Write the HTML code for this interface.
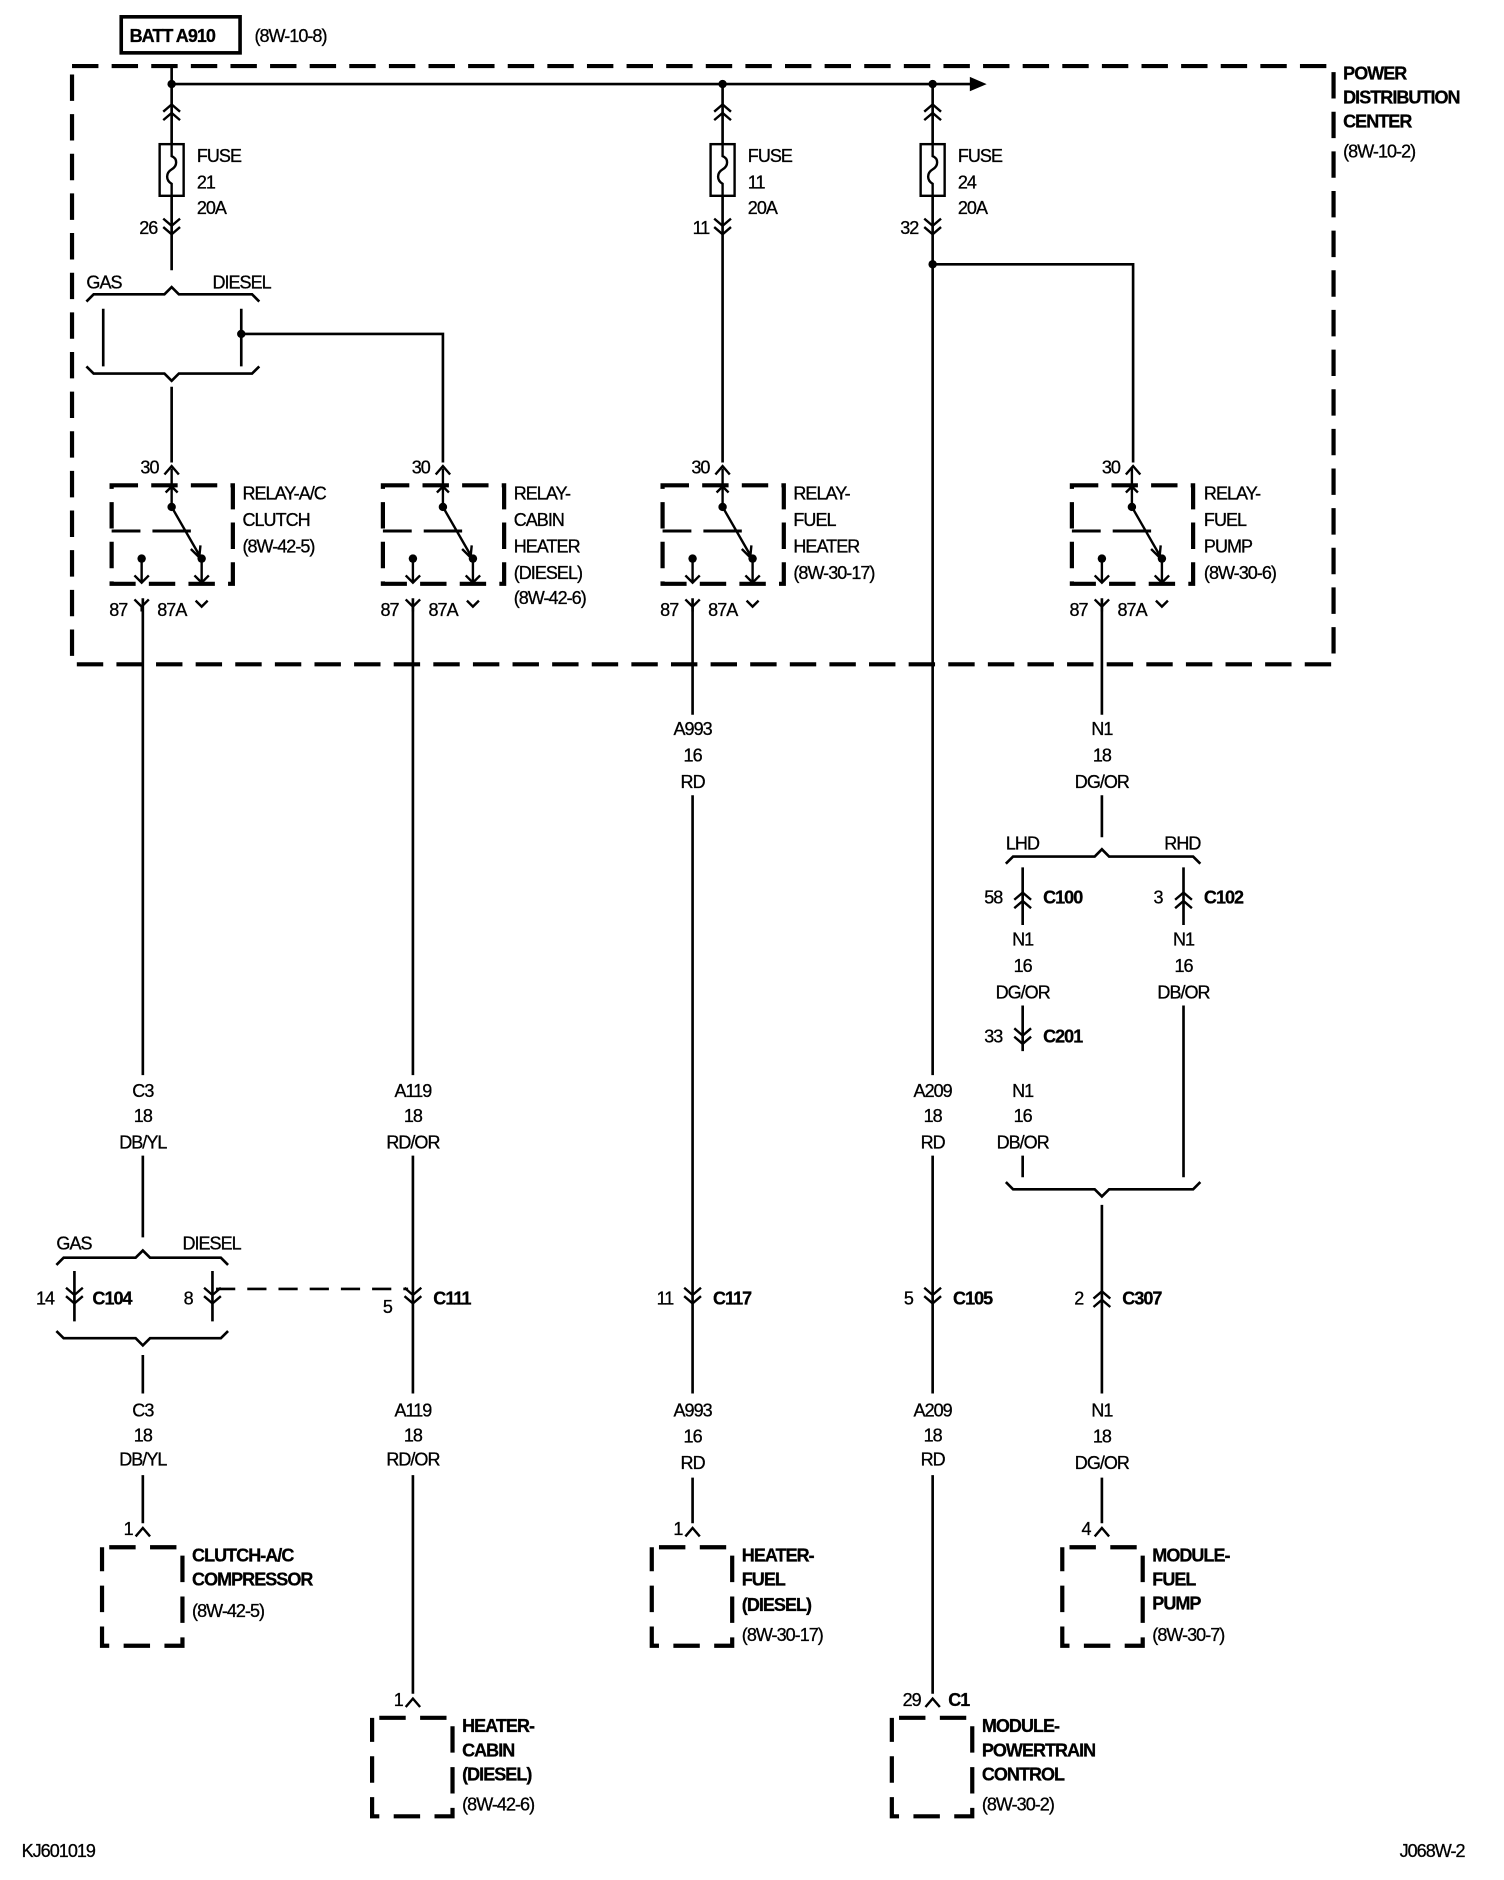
<!DOCTYPE html>
<html><head><meta charset="utf-8"><style>
html,body{margin:0;padding:0;background:#fff}
svg{display:block}
text{font-family:"Liberation Sans",sans-serif;font-size:15px;fill:#000;letter-spacing:-0.8px;stroke:#000;stroke-width:0.25px}
.b{font-weight:bold}
.c{text-anchor:middle}
</style></head><body>
<svg width="1504" height="1880" viewBox="0 0 1253 1565" preserveAspectRatio="none" xmlns="http://www.w3.org/2000/svg">
<defs>
<g id="dn" fill="none" stroke="#000" stroke-width="2"><path d="M-7,-8 L0,-2 L7,-8 M-7,-1 L0,5 L7,-1"/></g>
<g id="up" fill="none" stroke="#000" stroke-width="2"><path d="M-7,8 L0,2 L7,8 M-7,1 L0,-5 L7,1"/></g>
<g id="rc" fill="none" stroke="#000" stroke-width="2"><path d="M-6,5 L0,-2 L6,5"/></g>
<g id="relay">
 <rect x="0" y="0" width="101" height="82" fill="none" stroke="#000" stroke-width="3.5" stroke-dasharray="22,11"/>
 <g fill="none" stroke="#000" stroke-width="2">
  <path d="M50,-14 L50,18 M45,6 L50,1 L55,6"/>
  <path d="M50,18 L73,58 M66,53 L73,60 L74,50"/>
  <path d="M0,38 L24,38 M34,38 L66,38" stroke-width="2.5"/>
  <path d="M25,61 L25,81 M19,75 L25,81 L31,75"/>
  <path d="M75,61 L75,81 M69,75 L75,81 L81,75"/>
  <path d="M19,95 L25,101 L31,95 M25,101 L25,105"/>
  <path d="M70,96 L75,101 L80,96"/>
 </g>
 <circle cx="50" cy="18" r="3.5"/><circle cx="25" cy="61" r="3.5"/><circle cx="75" cy="61" r="3.5"/>
 <text x="-2" y="109">87</text><text x="38" y="109">87A</text>
</g>
<g id="comp"><rect x="0" y="0" width="67" height="82" fill="none" stroke="#000" stroke-width="3.5" stroke-dasharray="22,12" stroke-dashoffset="-6"/></g>
<g id="fuse" fill="none" stroke="#000" stroke-width="2"><rect x="-10" y="0" width="20" height="43"/><path d="M0,0 L0,10 C5,12 5,18 0,21 C-5,24 -5,30 0,33 L0,43"/></g>
</defs>

<rect x="101" y="14" width="99" height="30" fill="none" stroke="#000" stroke-width="3"/>
<text x="108" y="35" class="b">BATT A910</text>
<text x="212" y="35">(8W-10-8)</text>

<rect x="60" y="55" width="1051" height="498" fill="none" stroke="#000" stroke-width="3.5" stroke-dasharray="22,11"/>
<text x="1119" y="66" class="b">POWER</text>
<text x="1119" y="86" class="b">DISTRIBUTION</text>
<text x="1119" y="106" class="b">CENTER</text>
<text x="1119" y="131">(8W-10-2)</text>

<g fill="none" stroke="#000" stroke-width="2.2">
<path d="M143,55 L143,120 M143,163 L143,225"/>
<path d="M143,70 L810,70"/>
<path d="M602,70 L602,120 M602,163 L602,385"/>
<path d="M777,70 L777,120 M777,163 L777,895"/>
<path d="M777,220 L944,220 L944,385"/>
<path d="M72,251 L78,245 L137,245 L143,239 L149,245 L210,245 L216,251"/>
<path d="M86,257 L86,305 M201,257 L201,305"/>
<path d="M72,305 L78,311 L137,311 L143,317 L149,311 L210,311 L216,305"/>
<path d="M143,322 L143,385"/>
<path d="M201,278 L369,278 L369,385"/>
<path d="M119,498 L119,895 M119,962 L119,1030"/>
<path d="M344,498 L344,895 M344,962 L344,1160 M344,1228 L344,1410"/>
<path d="M577,498 L577,595 M577,662 L577,1160 M577,1230 L577,1268"/>
<path d="M777,962 L777,1160 M777,1228 L777,1410"/>
<path d="M918,498 L918,595 M918,662 L918,697"/>
<path d="M838,719 L844,713 L912,713 L918,707 L924,713 L994,713 L1000,719"/>
<path d="M852,722 L852,770 M852,837 L852,875 M852,962 L852,980"/>
<path d="M986,722 L986,770 M986,837 L986,980"/>
<path d="M838,984 L844,990 L912,990 L918,996 L924,990 L994,990 L1000,984"/>
<path d="M918,1003 L918,1160 M918,1230 L918,1268"/>
<path d="M47,1053 L53,1047 L113,1047 L119,1041 L125,1047 L184,1047 L190,1053"/>
<path d="M62,1058 L62,1100 M177,1058 L177,1100"/>
<path d="M47,1108 L53,1114 L113,1114 L119,1120 L125,1114 L184,1114 L190,1108"/>
<path d="M119,1128 L119,1160 M119,1228 L119,1268"/>
<path d="M180,1073 L340,1073" stroke-dasharray="16,10"/>
</g>
<path d="M808,64 L822,70 L808,76 Z"/>
<circle cx="143" cy="70" r="3.5"/><circle cx="602" cy="70" r="3.5"/><circle cx="777" cy="70" r="3.5"/>
<circle cx="777" cy="220" r="3.5"/><circle cx="201" cy="278" r="3.5"/>

<use href="#up" x="143" y="92"/><use href="#fuse" x="143" y="120"/><use href="#dn" x="143" y="190"/>
<use href="#up" x="602" y="92"/><use href="#fuse" x="602" y="120"/><use href="#dn" x="602" y="190"/>
<use href="#up" x="777" y="92"/><use href="#fuse" x="777" y="120"/><use href="#dn" x="777" y="190"/>
<text x="164" y="135">FUSE</text><text x="164" y="157">21</text><text x="164" y="178">20A</text>
<text x="623" y="135">FUSE</text><text x="623" y="157">11</text><text x="623" y="178">20A</text>
<text x="798" y="135">FUSE</text><text x="798" y="157">24</text><text x="798" y="178">20A</text>
<text x="116" y="195">26</text><text x="577" y="195">11</text><text x="750" y="195">32</text>
<text x="72" y="240">GAS</text><text x="177" y="240">DIESEL</text>

<use href="#rc" x="143" y="390"/><use href="#rc" x="369" y="390"/><use href="#rc" x="602" y="390"/><use href="#rc" x="944" y="390"/>
<text x="117" y="394">30</text><text x="343" y="394">30</text><text x="576" y="394">30</text><text x="918" y="394">30</text>
<use href="#relay" x="93" y="404"/>
<use href="#relay" x="319" y="404"/>
<use href="#relay" x="552" y="404"/>
<use href="#relay" x="893" y="404"/>
<text x="202" y="416">RELAY-A/C</text><text x="202" y="438">CLUTCH</text><text x="202" y="460">(8W-42-5)</text>
<text x="428" y="416">RELAY-</text><text x="428" y="438">CABIN</text><text x="428" y="460">HEATER</text><text x="428" y="482">(DIESEL)</text><text x="428" y="503">(8W-42-6)</text>
<text x="661" y="416">RELAY-</text><text x="661" y="438">FUEL</text><text x="661" y="460">HEATER</text><text x="661" y="482">(8W-30-17)</text>
<text x="1003" y="416">RELAY-</text><text x="1003" y="438">FUEL</text><text x="1003" y="460">PUMP</text><text x="1003" y="482">(8W-30-6)</text>

<g class="c">
<text x="119" y="913" class="c">C3</text><text x="119" y="934" class="c">18</text><text x="119" y="956" class="c">DB/YL</text>
<text x="344" y="913" class="c">A119</text><text x="344" y="934" class="c">18</text><text x="344" y="956" class="c">RD/OR</text>
<text x="777" y="913" class="c">A209</text><text x="777" y="934" class="c">18</text><text x="777" y="956" class="c">RD</text>
<text x="577" y="612" class="c">A993</text><text x="577" y="634" class="c">16</text><text x="577" y="656" class="c">RD</text>
<text x="918" y="612" class="c">N1</text><text x="918" y="634" class="c">18</text><text x="918" y="656" class="c">DG/OR</text>
<text x="852" y="787" class="c">N1</text><text x="852" y="809" class="c">16</text><text x="852" y="831" class="c">DG/OR</text>
<text x="986" y="787" class="c">N1</text><text x="986" y="809" class="c">16</text><text x="986" y="831" class="c">DB/OR</text>
<text x="852" y="913" class="c">N1</text><text x="852" y="934" class="c">16</text><text x="852" y="956" class="c">DB/OR</text>
<text x="119" y="1179" class="c">C3</text><text x="119" y="1200" class="c">18</text><text x="119" y="1220" class="c">DB/YL</text>
<text x="344" y="1179" class="c">A119</text><text x="344" y="1200" class="c">18</text><text x="344" y="1220" class="c">RD/OR</text>
<text x="577" y="1179" class="c">A993</text><text x="577" y="1201" class="c">16</text><text x="577" y="1223" class="c">RD</text>
<text x="777" y="1179" class="c">A209</text><text x="777" y="1200" class="c">18</text><text x="777" y="1220" class="c">RD</text>
<text x="918" y="1179" class="c">N1</text><text x="918" y="1201" class="c">18</text><text x="918" y="1223" class="c">DG/OR</text>
</g>
<text x="838" y="707">LHD</text><text x="970" y="707">RHD</text>
<text x="47" y="1040">GAS</text><text x="152" y="1040">DIESEL</text>

<use href="#up" x="852" y="748"/><text x="820" y="752">58</text><text x="869" y="752" class="b">C100</text>
<use href="#up" x="986" y="748"/><text x="961" y="752">3</text><text x="1003" y="752" class="b">C102</text>
<use href="#dn" x="852" y="864"/><text x="820" y="868">33</text><text x="869" y="868" class="b">C201</text>
<use href="#dn" x="62" y="1080"/><text x="30" y="1086">14</text><text x="77" y="1086" class="b">C104</text>
<use href="#dn" x="177" y="1080"/><text x="153" y="1086">8</text>
<use href="#dn" x="344" y="1080"/><text x="319" y="1093">5</text><text x="361" y="1086" class="b">C111</text>
<use href="#dn" x="577" y="1080"/><text x="547" y="1086">11</text><text x="594" y="1086" class="b">C117</text>
<use href="#dn" x="777" y="1080"/><text x="753" y="1086">5</text><text x="794" y="1086" class="b">C105</text>
<use href="#up" x="918" y="1080"/><text x="895" y="1086">2</text><text x="935" y="1086" class="b">C307</text>

<use href="#rc" x="119" y="1274"/><text x="103" y="1278">1</text>
<use href="#comp" x="85" y="1288"/>
<text x="160" y="1300" class="b">CLUTCH-A/C</text><text x="160" y="1320" class="b">COMPRESSOR</text><text x="160" y="1346">(8W-42-5)</text>

<use href="#rc" x="577" y="1274"/><text x="561" y="1278">1</text>
<use href="#comp" x="543" y="1288"/>
<text x="618" y="1300" class="b">HEATER-</text><text x="618" y="1320" class="b">FUEL</text><text x="618" y="1341" class="b">(DIESEL)</text><text x="618" y="1366">(8W-30-17)</text>

<use href="#rc" x="918" y="1274"/><text x="901" y="1278">4</text>
<use href="#comp" x="885" y="1288"/>
<text x="960" y="1300" class="b">MODULE-</text><text x="960" y="1320" class="b">FUEL</text><text x="960" y="1340" class="b">PUMP</text><text x="960" y="1366">(8W-30-7)</text>

<use href="#rc" x="344" y="1416"/><text x="328" y="1420">1</text>
<use href="#comp" x="310" y="1430"/>
<text x="385" y="1442" class="b">HEATER-</text><text x="385" y="1462" class="b">CABIN</text><text x="385" y="1482" class="b">(DIESEL)</text><text x="385" y="1507">(8W-42-6)</text>

<use href="#rc" x="777" y="1416"/><text x="752" y="1420">29</text><text x="790" y="1420" class="b">C1</text>
<use href="#comp" x="743" y="1430"/>
<text x="818" y="1442" class="b">MODULE-</text><text x="818" y="1462" class="b">POWERTRAIN</text><text x="818" y="1482" class="b">CONTROL</text><text x="818" y="1507">(8W-30-2)</text>

<text x="18" y="1546">KJ601019</text>
<text x="1166" y="1546">J068W-2</text>
</svg>
</body></html>
